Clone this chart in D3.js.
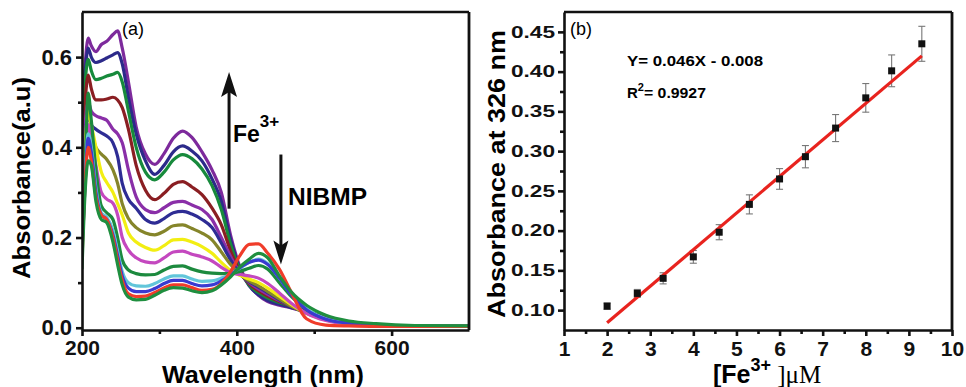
<!DOCTYPE html>
<html>
<head>
<meta charset="utf-8">
<script src="https://cdn.jsdelivr.net/npm/d3@7"></script>
<style>
  body { margin: 0; background: #fff; }
  svg { display: block; font-family: "Liberation Sans", Arial, sans-serif; }
  .axis path, .axis line { stroke: #111; stroke-width: 2.6; }
  .axis text { fill: #111; font-weight: bold; }
</style>
</head>
<body>
<svg id="chart" width="966" height="387"></svg>
<script>
// ---- panel (a): absorption spectra ----
const wavelengths = [200, 204, 208, 212, 218, 225, 232, 240, 246, 252, 260, 270, 282, 294, 306, 318, 330,
  342, 355, 368, 380, 392, 404, 416, 428, 440, 455, 470, 490, 515, 545, 580, 630, 700];

const specPurple2 = [0.45, 0.58, 0.642, 0.625, 0.612, 0.628, 0.635, 0.65, 0.658, 0.62, 0.545, 0.445, 0.385, 0.362, 0.386, 0.42, 0.436,
  0.422, 0.39, 0.35, 0.30, 0.205, 0.135, 0.095, 0.072, 0.058, 0.05, 0.044, 0.035, 0.022, 0.012, 0.006, 0.004, 0.003];
const specNavy2 = [0.42, 0.56, 0.62, 0.60, 0.588, 0.592, 0.598, 0.605, 0.61, 0.585, 0.51, 0.43, 0.37, 0.34, 0.36, 0.39, 0.403,
  0.392, 0.37, 0.33, 0.28, 0.195, 0.13, 0.093, 0.073, 0.06, 0.052, 0.045, 0.036, 0.023, 0.012, 0.006, 0.004, 0.003];
const specGreen3 = [0.40, 0.54, 0.595, 0.57, 0.55, 0.553, 0.558, 0.562, 0.566, 0.545, 0.48, 0.40, 0.345, 0.328, 0.345, 0.372, 0.384,
  0.375, 0.352, 0.315, 0.262, 0.185, 0.128, 0.095, 0.078, 0.066, 0.056, 0.048, 0.037, 0.023, 0.012, 0.006, 0.004, 0.003];
const specWine = [0.38, 0.50, 0.56, 0.53, 0.505, 0.505, 0.507, 0.511, 0.505, 0.488, 0.44, 0.36, 0.305, 0.284, 0.298, 0.318, 0.324,
  0.312, 0.295, 0.265, 0.228, 0.17, 0.125, 0.098, 0.082, 0.07, 0.058, 0.048, 0.036, 0.022, 0.012, 0.006, 0.004, 0.003];
const specPurple1 = [0.34, 0.45, 0.50, 0.48, 0.47, 0.465, 0.46, 0.44, 0.43, 0.41, 0.35, 0.29, 0.262, 0.255, 0.266, 0.278, 0.28,
  0.272, 0.262, 0.24, 0.20, 0.158, 0.122, 0.10, 0.086, 0.074, 0.06, 0.048, 0.035, 0.021, 0.011, 0.006, 0.004, 0.003];
const specNavy1 = [0.32, 0.42, 0.47, 0.45, 0.44, 0.432, 0.425, 0.41, 0.38, 0.32, 0.285, 0.265, 0.24, 0.232, 0.242, 0.255, 0.258,
  0.252, 0.24, 0.222, 0.188, 0.15, 0.12, 0.102, 0.09, 0.078, 0.062, 0.048, 0.034, 0.02, 0.01, 0.005, 0.004, 0.003];
const specOlive = [0.30, 0.40, 0.45, 0.43, 0.40, 0.385, 0.373, 0.35, 0.32, 0.275, 0.242, 0.222, 0.21, 0.206, 0.214, 0.226, 0.228,
  0.22, 0.21, 0.195, 0.168, 0.14, 0.118, 0.104, 0.093, 0.08, 0.064, 0.048, 0.032, 0.018, 0.009, 0.005, 0.004, 0.003];
const specYellow = [0.28, 0.40, 0.48, 0.45, 0.40, 0.345, 0.322, 0.30, 0.275, 0.25, 0.21, 0.19, 0.178, 0.172, 0.182, 0.195, 0.196,
  0.19, 0.18, 0.165, 0.145, 0.127, 0.116, 0.108, 0.10, 0.088, 0.07, 0.052, 0.032, 0.017, 0.008, 0.005, 0.004, 0.003];
const specMagenta = [0.25, 0.38, 0.45, 0.42, 0.36, 0.30, 0.285, 0.276, 0.25, 0.20, 0.172, 0.155, 0.146, 0.144, 0.155, 0.168, 0.17,
  0.163, 0.157, 0.148, 0.134, 0.122, 0.118, 0.115, 0.11, 0.098, 0.077, 0.055, 0.032, 0.016, 0.008, 0.005, 0.004, 0.003];
const specGreen2 = [0.22, 0.36, 0.52, 0.46, 0.35, 0.27, 0.255, 0.24, 0.20, 0.15, 0.128, 0.12, 0.117, 0.118, 0.128, 0.136, 0.137,
  0.13, 0.124, 0.121, 0.12, 0.12, 0.125, 0.132, 0.138, 0.13, 0.10, 0.07, 0.04, 0.02, 0.01, 0.006, 0.004, 0.003];
const specCyan = [0.18, 0.33, 0.43, 0.40, 0.31, 0.255, 0.245, 0.215, 0.17, 0.125, 0.10, 0.093, 0.092, 0.098, 0.108, 0.115, 0.115,
  0.108, 0.103, 0.104, 0.11, 0.119, 0.132, 0.145, 0.152, 0.142, 0.11, 0.075, 0.042, 0.02, 0.01, 0.006, 0.004, 0.003];
const specBlue = [0.17, 0.32, 0.42, 0.39, 0.30, 0.25, 0.24, 0.205, 0.16, 0.115, 0.088, 0.08, 0.08, 0.087, 0.098, 0.105, 0.105,
  0.098, 0.093, 0.095, 0.104, 0.118, 0.133, 0.145, 0.15, 0.14, 0.11, 0.074, 0.04, 0.019, 0.01, 0.006, 0.004, 0.003];
const specRed = [0.15, 0.32, 0.40, 0.37, 0.29, 0.25, 0.24, 0.20, 0.15, 0.105, 0.075, 0.069, 0.07, 0.078, 0.088, 0.095, 0.095,
  0.089, 0.083, 0.085, 0.098, 0.125, 0.16, 0.185, 0.186, 0.165, 0.13, 0.08, 0.02, 0.006, 0.004, 0.003, 0.003, 0.003];
const specGreen1 = [0.13, 0.30, 0.37, 0.36, 0.28, 0.24, 0.233, 0.19, 0.14, 0.095, 0.068, 0.062, 0.063, 0.072, 0.083, 0.089, 0.088,
  0.082, 0.078, 0.082, 0.095, 0.113, 0.135, 0.152, 0.165, 0.155, 0.115, 0.08, 0.05, 0.028, 0.015, 0.009, 0.005, 0.004];

const spectra = [
  {color: "#7d2a9c", values: specPurple2},
  {color: "#2c2a8a", values: specNavy2},
  {color: "#178a3c", values: specGreen3},
  {color: "#8a1e22", values: specWine},
  {color: "#8a2fa8", values: specPurple1},
  {color: "#2e2c94", values: specNavy1},
  {color: "#85852a", values: specOlive},
  {color: "#f2ee12", values: specYellow},
  {color: "#c448bf", values: specMagenta},
  {color: "#1c8a3e", values: specGreen2},
  {color: "#62c6da", values: specCyan},
  {color: "#3a3ad0", values: specBlue},
  {color: "#f03c2a", values: specRed},
  {color: "#1f8f3f", values: specGreen1}
];

// ---- panel (b): calibration ----
const feConc = [2, 2.7, 3.3, 4, 4.6, 5.3, 6, 6.6, 7.3, 8, 8.6, 9.3];
const abs326 = [0.105, 0.121, 0.140, 0.167, 0.198, 0.233, 0.265, 0.293, 0.329, 0.367, 0.401, 0.435];
const abs326Err = [0.004, 0.005, 0.007, 0.008, 0.0095, 0.012, 0.013, 0.014, 0.017, 0.018, 0.02, 0.022];
const fitSlope = 0.046, fitIntercept = -0.008;

const svg = d3.select("#chart");

// ================= panel (a) =================
const xA = d3.scaleLinear().domain([200, 700]).range([82, 469]);
const yA = d3.scaleLinear().domain([-0.005, 0.7]).range([330, 12]);

svg.append("clipPath").attr("id", "clipA")
  .append("rect").attr("x", 82).attr("y", 12).attr("width", 387).attr("height", 318);

const lineA = d3.line()
  .x((d, i) => xA(wavelengths[i]))
  .y(d => yA(d))
  .curve(d3.curveMonotoneX);

svg.append("g").attr("clip-path", "url(#clipA)")
  .selectAll("path").data(spectra).join("path")
  .attr("d", d => lineA(d.values))
  .attr("fill", "none")
  .attr("stroke", d => d.color)
  .attr("stroke-width", 3.2)
  .attr("stroke-linejoin", "round");

function frame(x0, x1, y0, y1) {
  svg.append("line").attr("x1", x0).attr("x2", x1).attr("y1", y0).attr("y2", y0)
    .attr("stroke", "#111").attr("stroke-width", 2.6);
  svg.append("line").attr("x1", x1).attr("x2", x1).attr("y1", y0).attr("y2", y1)
    .attr("stroke", "#111").attr("stroke-width", 2.8);
}
frame(82, 469, 12, 330);

// axes (a)
const axAx = svg.append("g").attr("class", "axis").attr("transform", "translate(0,330)")
  .call(d3.axisBottom(xA).tickValues([200, 400, 600]).tickSize(6).tickSizeOuter(0).tickPadding(4).tickFormat(d3.format("d")));
svg.append("g").attr("class", "axis").attr("transform", "translate(0,330)")
  .call(d3.axisBottom(xA).tickValues([300, 500]).tickSize(4).tickSizeOuter(0).tickFormat(""))
  .select(".domain").remove();
axAx.selectAll("text").style("font-size", "21px");

const axAy = svg.append("g").attr("class", "axis").attr("transform", "translate(82,0)")
  .call(d3.axisLeft(yA).tickValues([0, 0.2, 0.4, 0.6]).tickSize(6).tickSizeOuter(0).tickPadding(4).tickFormat(d3.format(".1f")));
svg.append("g").attr("class", "axis").attr("transform", "translate(82,0)")
  .call(d3.axisLeft(yA).tickValues([0.1, 0.3, 0.5]).tickSize(4).tickSizeOuter(0).tickFormat(""))
  .select(".domain").remove();
axAy.selectAll("text").style("font-size", "22px");

svg.append("text").attr("x", 263).attr("y", 383).attr("text-anchor", "middle")
  .attr("font-weight", "bold").attr("font-size", 23).attr("textLength", 202).attr("lengthAdjust", "spacingAndGlyphs")
  .text("Wavelength (nm)");
svg.append("text").attr("transform", "translate(30,178) rotate(-90)").attr("text-anchor", "middle")
  .attr("font-weight", "bold").attr("font-size", 23).attr("textLength", 202).attr("lengthAdjust", "spacingAndGlyphs")
  .text("Absorbance(a.u)");

svg.append("text").attr("x", 122).attr("y", 35).attr("font-size", 18).text("(a)");

// arrows
function arrow(x, yFrom, yTo, headW, headL) {
  const dir = yTo < yFrom ? 1 : -1;
  svg.append("line").attr("x1", x).attr("x2", x).attr("y1", yFrom).attr("y2", yTo + dir * headL * 0.6)
    .attr("stroke", "#111").attr("stroke-width", 3);
  svg.append("path")
    .attr("d", `M${x},${yTo} L${x - headW / 2},${yTo + dir * headL} L${x},${yTo + dir * headL * 0.8} L${x + headW / 2},${yTo + dir * headL} Z`)
    .attr("fill", "#111");
}
arrow(xA(390), yA(0.264), yA(0.567), 16, 25);
arrow(xA(457), yA(0.384), yA(0.14), 15, 24);

const feLab = svg.append("text").attr("x", 233).attr("y", 142).attr("font-weight", "bold").attr("font-size", 23);
feLab.append("tspan").text("Fe");
feLab.append("tspan").attr("dy", -15).attr("font-size", 17).text("3+");

svg.append("text").attr("x", 288).attr("y", 205).attr("font-weight", "bold").attr("font-size", 23)
  .attr("textLength", 79).attr("lengthAdjust", "spacingAndGlyphs").text("NIBMP");

// ================= panel (b) =================
const xB = d3.scaleLinear().domain([1, 10]).range([564, 952]);
const yB = d3.scaleLinear().domain([0.075, 0.475]).range([330, 12]);

frame(564, 952, 12, 330);

const axBx = svg.append("g").attr("class", "axis").attr("transform", "translate(0,330)")
  .call(d3.axisBottom(xB).tickValues(d3.range(1, 11)).tickSize(6).tickSizeOuter(0).tickPadding(5).tickFormat(d3.format("d")));
svg.append("g").attr("class", "axis").attr("transform", "translate(0,330)")
  .call(d3.axisBottom(xB).tickValues(d3.range(1.5, 10, 1)).tickSize(4).tickSizeOuter(0).tickFormat(""))
  .select(".domain").remove();
axBx.selectAll("text").style("font-size", "21px");

const yMajorB = [0.10, 0.15, 0.20, 0.25, 0.30, 0.35, 0.40, 0.45];
const yMinorB = [0.125, 0.175, 0.225, 0.275, 0.325, 0.375, 0.425];
const axBy = svg.append("g").attr("class", "axis").attr("transform", "translate(564,0)")
  .call(d3.axisLeft(yB).tickValues(yMajorB).tickSize(6).tickSizeOuter(0).tickPadding(3).tickFormat(d3.format(".2f")));
svg.append("g").attr("class", "axis").attr("transform", "translate(564,0)")
  .call(d3.axisLeft(yB).tickValues(yMinorB).tickSize(4).tickSizeOuter(0).tickFormat(""))
  .select(".domain").remove();
axBy.selectAll("text").style("font-size", "16.5px")
  .attr("textLength", 44).attr("lengthAdjust", "spacingAndGlyphs");

svg.append("text").attr("transform", "translate(505,174) rotate(-90)").attr("text-anchor", "middle")
  .attr("font-weight", "bold").attr("font-size", 23).attr("textLength", 288).attr("lengthAdjust", "spacingAndGlyphs")
  .text("Absorbance at 326 nm");

const xLab = svg.append("text").attr("x", 713).attr("y", 383).attr("font-size", 25);
xLab.append("tspan").attr("font-weight", "bold").text("[Fe");
xLab.append("tspan").attr("font-weight", "bold").attr("font-size", 18).attr("dy", -12).text("3+");
xLab.append("tspan").attr("dy", 12).attr("font-family", "'Liberation Serif', 'Times New Roman', serif").text(" ]\u03bcM");

svg.append("text").attr("x", 570).attr("y", 35).attr("font-size", 18).text("(b)");

svg.append("text").attr("x", 627).attr("y", 66).attr("font-weight", "bold").attr("font-size", 14)
  .attr("textLength", 136).attr("lengthAdjust", "spacingAndGlyphs")
  .text(`Y= ${fitSlope}X - ${Math.abs(fitIntercept).toFixed(3)}`);
const r2 = svg.append("text").attr("x", 627).attr("y", 98).attr("font-weight", "bold").attr("font-size", 15);
r2.append("tspan").text("R");
r2.append("tspan").attr("dy", -7).attr("font-size", 11).text("2");
r2.append("tspan").attr("dy", 7).attr("textLength", 62).attr("lengthAdjust", "spacingAndGlyphs").text("= 0.9927");

// error bars
const eb = svg.append("g").attr("stroke", "#777").attr("stroke-width", 1.1);
feConc.forEach((x, i) => {
  const cx = xB(x), yt = yB(abs326[i] + abs326Err[i]), yb = yB(abs326[i] - abs326Err[i]);
  eb.append("line").attr("x1", cx).attr("x2", cx).attr("y1", yt).attr("y2", yb);
  eb.append("line").attr("x1", cx - 3.5).attr("x2", cx + 3.5).attr("y1", yt).attr("y2", yt);
  eb.append("line").attr("x1", cx - 3.5).attr("x2", cx + 3.5).attr("y1", yb).attr("y2", yb);
});

// fit line
const xFit = d3.extent(feConc);
svg.append("line")
  .attr("x1", xB(xFit[0])).attr("y1", yB(fitSlope * xFit[0] + fitIntercept))
  .attr("x2", xB(xFit[1])).attr("y2", yB(fitSlope * xFit[1] + fitIntercept))
  .attr("stroke", "#e8231e").attr("stroke-width", 3.2);

// markers
svg.append("g").selectAll("rect").data(feConc).join("rect")
  .attr("x", d => xB(d) - 3.5)
  .attr("y", (d, i) => yB(abs326[i]) - 3.5)
  .attr("width", 7).attr("height", 7)
  .attr("fill", "#111");
</script>
</body>
</html>
